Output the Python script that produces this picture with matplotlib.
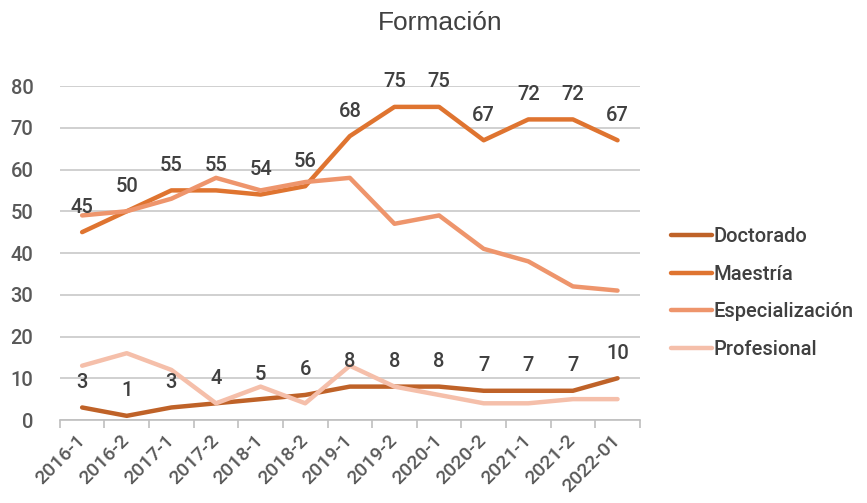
import matplotlib
matplotlib.use('Agg')
import matplotlib.pyplot as plt
import numpy as np

periodos = ['2016-1', '2016-2', '2017-1', '2017-2', '2018-1', '2018-2', '2019-1',
            '2019-2', '2020-1', '2020-2', '2021-1', '2021-2', '2022-01']
doctorado = [3, 1, 3, 4, 5, 6, 8, 8, 8, 7, 7, 7, 10]
maestria = [45, 50, 55, 55, 54, 56, 68, 75, 75, 67, 72, 72, 67]
especializacion = [49, 50, 53, 58, 55, 57, 58, 47, 49, 41, 38, 32, 31]
profesional = [13, 16, 12, 4, 8, 4, 13, 8, 6, 4, 4, 5, 5]

COLORES = {
    'Doctorado': '#BF6228',
    'Maestría': '#DF7430',
    'Especialización': '#EE956C',
    'Profesional': '#F5BFAA',
}
TEXTO = '#404040'
GRIS = '#595959'

plt.rcParams['font.family'] = ['Roboto', 'DejaVu Sans']
plt.rcParams['font.weight'] = 'medium'

fig = plt.figure(figsize=(8.67, 5.03), dpi=100)
ax = fig.add_axes([0.069, 0.165, 0.669, 0.664])

x = np.arange(len(periodos))
series = [('Doctorado', doctorado), ('Maestría', maestria),
          ('Especialización', especializacion), ('Profesional', profesional)]
for nombre, valores in series:
    ax.plot(x, valores, color=COLORES[nombre], linewidth=3.2, label=nombre,
            solid_capstyle='round', solid_joinstyle='round', zorder=3)

# etiquetas de datos (solo Doctorado y Maestría)
for valores in (doctorado, maestria):
    for xi, v in zip(x, valores):
        ax.annotate(str(v), (xi, v), xytext=(0, 18), textcoords='offset points',
                    ha='center', va='center', fontsize=14.5, color=TEXTO, zorder=4)

ax.set_xlim(-0.5, len(periodos) - 0.5)
ax.set_ylim(0, 80)
ax.set_yticks(np.arange(0, 81, 10))
ax.grid(axis='y', color='#C8C8C8', linewidth=1.2, zorder=0)
ax.set_axisbelow(True)

for lado in ('top', 'right', 'left'):
    ax.spines[lado].set_visible(False)
ax.spines['bottom'].set_color('#BFBFBF')
ax.spines['bottom'].set_linewidth(1.2)

ax.set_xticks(np.arange(-0.5, len(periodos), 1.0))
ax.set_xticklabels([])
ax.set_xticks(x, minor=True)
ax.set_xticklabels(periodos, minor=True, rotation=45, ha='right', va='center',
                   rotation_mode='anchor', fontsize=14, color=GRIS)
ax.tick_params(axis='x', which='major', length=6, width=1.2, color='#BFBFBF', direction='out')
ax.tick_params(axis='x', which='minor', length=0, pad=13)
ax.tick_params(axis='y', length=0, labelsize=14.5, labelcolor=GRIS, pad=19)

ax.legend(loc='center left', bbox_to_anchor=(1.03, 0.38), frameon=False,
          fontsize=14.5, labelcolor=TEXTO, handlelength=2.0, handletextpad=0.1,
          labelspacing=0.92, borderaxespad=0.3)

fig.text(0.508, 0.955, 'Formación', ha='center', va='center', fontsize=19,
         color=TEXTO, family=['Liberation Sans', 'DejaVu Sans'])

fig.savefig('out.png', dpi=100)
